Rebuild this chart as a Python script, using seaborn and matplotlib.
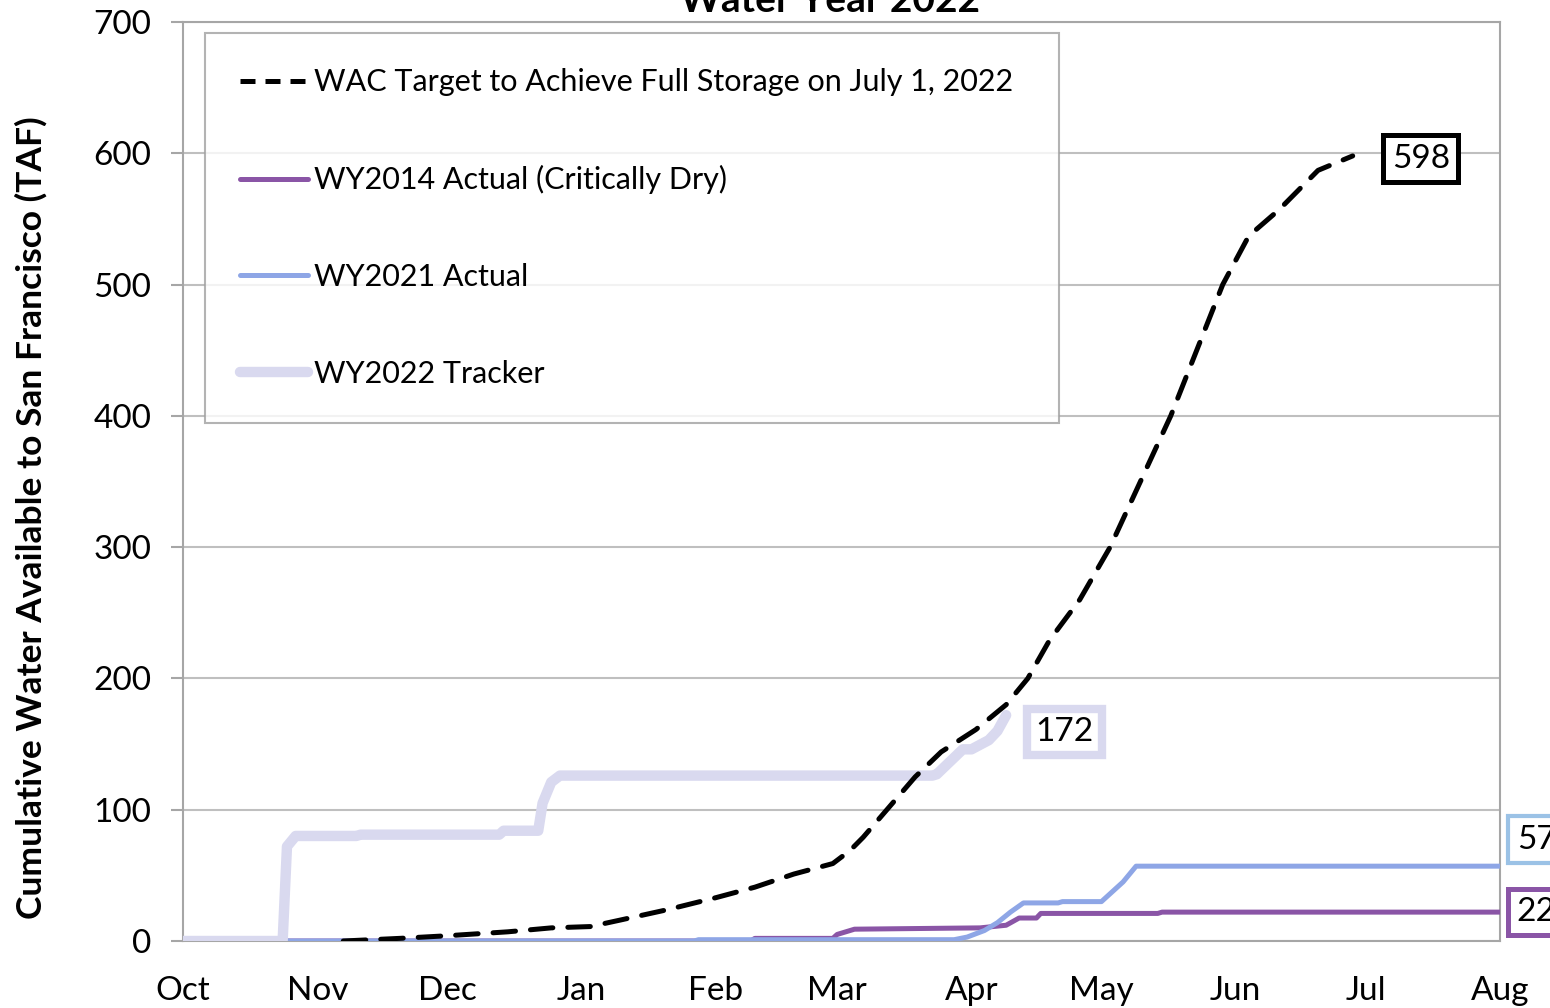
import pandas as pd
import numpy as np
import matplotlib
matplotlib.use("Agg")
import matplotlib.pyplot as plt
import matplotlib.dates as mdates
from matplotlib.lines import Line2D
import seaborn as sns

# series (date, cumulative TAF)
wac_dates = ["2021-11-07", "2021-11-20", "2021-12-01", "2021-12-15", "2021-12-25", "2022-01-03",
             "2022-01-10", "2022-01-21", "2022-02-01", "2022-02-10", "2022-02-19", "2022-02-28",
             "2022-03-04", "2022-03-07", "2022-03-13", "2022-03-19", "2022-03-25", "2022-04-02",
             "2022-04-09", "2022-04-14", "2022-04-19", "2022-04-26", "2022-05-03", "2022-05-10",
             "2022-05-17", "2022-05-23", "2022-05-29", "2022-06-04", "2022-06-11", "2022-06-20",
             "2022-06-28"]
wac_vals = [0, 2, 4, 7, 10, 11, 16, 24, 33, 41, 51, 59, 69, 79, 102, 125, 144, 161,
            180, 200, 229, 260, 300, 350, 400, 450, 500, 537, 557, 587, 598]

wy14_dates = ["2021-10-01", "2022-02-09", "2022-02-10", "2022-02-28", "2022-03-01", "2022-03-05",
              "2022-04-03", "2022-04-09", "2022-04-12", "2022-04-16", "2022-04-17", "2022-05-14",
              "2022-05-15", "2022-08-01"]
wy14_vals = [0, 0, 2, 2, 5, 9, 10, 12, 17.5, 17.5, 21, 21, 22, 22]

wy21_dates = ["2021-10-01", "2022-01-27", "2022-01-28", "2022-03-28", "2022-03-31", "2022-04-04",
              "2022-04-07", "2022-04-10", "2022-04-13", "2022-04-21", "2022-04-22", "2022-05-01",
              "2022-05-03", "2022-05-06", "2022-05-09", "2022-08-01"]
wy21_vals = [0, 0, 1, 1, 3, 8, 14, 22, 29, 29, 30, 30, 36, 45, 57, 57]

wy22_dates = ["2021-10-01", "2021-10-24", "2021-10-25", "2021-10-27", "2021-11-10", "2021-11-11",
              "2021-12-13", "2021-12-14", "2021-12-22", "2021-12-23", "2021-12-25", "2021-12-27",
              "2022-03-23", "2022-03-24", "2022-03-30", "2022-04-01", "2022-04-05", "2022-04-07",
              "2022-04-09"]
wy22_vals = [0, 0, 72, 80, 80, 81, 81, 84, 84, 105, 121, 126, 126, 127, 146, 146, 153, 160, 172]

labels = ["WAC Target to Achieve Full Storage on July 1, 2022",
          "WY2014 Actual (Critically Dry)",
          "WY2021 Actual",
          "WY2022 Tracker"]

c_wac = "black"
c_14 = "#8A55A6"
c_21 = "#8EA6E6"
c_22 = "#D9D9EF"

sns.set_style("white")
plt.rcParams['font.family'] = ['Lato', 'DejaVu Sans']
plt.rcParams['text.color'] = 'black'
plt.rcParams['axes.labelcolor'] = 'black'
plt.rcParams['xtick.color'] = 'black'
plt.rcParams['ytick.color'] = 'black'

fig = plt.figure(figsize=(15.5, 10.08), dpi=100)
ax = fig.add_axes([183/1550, 67/1008, 1317/1550, 919/1008])

def frame(d, v):
    return pd.DataFrame({"date": pd.to_datetime(d), "val": v})

sns.lineplot(data=frame(wy14_dates, wy14_vals), x="date", y="val", ax=ax, color=c_14,
             lw=3.6, estimator=None, sort=False, zorder=3)
sns.lineplot(data=frame(wy21_dates, wy21_vals), x="date", y="val", ax=ax, color=c_21,
             lw=3.6, estimator=None, sort=False, zorder=4, solid_capstyle="round")
sns.lineplot(data=frame(wy22_dates, wy22_vals), x="date", y="val", ax=ax, color=c_22,
             lw=7.5, estimator=None, sort=False, zorder=5, solid_capstyle="round")
sns.lineplot(data=frame(wac_dates, wac_vals), x="date", y="val", ax=ax, color=c_wac,
             lw=3.6, estimator=None, sort=False, zorder=6, linestyle=(0, (4.5, 3)),
             dash_capstyle="round")

ax.set_xlim(pd.Timestamp("2021-10-01"), pd.Timestamp("2022-08-01"))
ax.set_ylim(0, 700)
ax.set_yticks(np.arange(0, 701, 100))
ax.xaxis.set_major_locator(mdates.MonthLocator())
ax.xaxis.set_major_formatter(mdates.DateFormatter("%b"))
ax.tick_params(axis="x", length=0, pad=25, labelsize=24, labelcolor="black")
ax.tick_params(axis="y", length=9, width=1.5, color="#A6A6A6", pad=14, labelsize=24,
               left=True, labelcolor="black")
ax.grid(axis="y", color="#BFBFBF", lw=1.5)
ax.set_axisbelow(True)
for s in ax.spines.values():
    s.set_color("#A6A6A6")
    s.set_linewidth(1.5)
ax.set_xlabel("")
ax.set_ylabel("Cumulative Water Available to San Francisco (TAF)", fontsize=25.5,
              fontweight="bold", color="black")
ax.yaxis.set_label_coords(-0.103, 0.461)

fig.text(830/1550, 1 - 12/1008, "Water Year 2022", ha="center", va="baseline",
         fontsize=28, fontweight="bold")

handles = [Line2D([], [], color=c_wac, lw=3.6, linestyle=(0, (3, 2))),
           Line2D([], [], color=c_14, lw=3.6),
           Line2D([], [], color=c_21, lw=3.6),
           Line2D([], [], color=c_22, lw=7.5, solid_capstyle="round")]
leg = ax.legend(handles, labels, loc="upper left", bbox_to_anchor=(0.0167, 0.558, 0.6485, 0.43),
                mode="expand", fontsize=22, frameon=True, fancybox=False, borderpad=1.16,
                labelspacing=2.25, handlelength=2.2, handletextpad=0.2, borderaxespad=0)
leg.get_frame().set_edgecolor("#A0A0A0")
leg.get_frame().set_linewidth(1.5)

# end-of-series value labels
def end_label(d, v, text, ec, lw, dx, dy, ha="center"):
    ax.annotate(text, xy=(pd.Timestamp(d[-1]), v[-1]), xytext=(dx, dy), textcoords="offset points",
                ha=ha, va="center", fontsize=24, annotation_clip=False, zorder=10,
                bbox=dict(boxstyle="square,pad=0.25", fc="white", ec=ec, lw=lw))

end_label(wac_dates, wac_vals, str(wac_vals[-1]), "black", 3.6, 49, -2)
end_label(wy22_dates, wy22_vals, str(wy22_vals[-1]), c_22, 6, 42, -12)
end_label(wy21_dates, wy21_vals, str(wy21_vals[-1]), "#9BC2E6", 3, 12, 19, ha="left")
end_label(wy14_dates, wy14_vals, str(wy14_vals[-1]), c_14, 3.6, 12, 0, ha="left")

fig.savefig("out.png", dpi=100)
